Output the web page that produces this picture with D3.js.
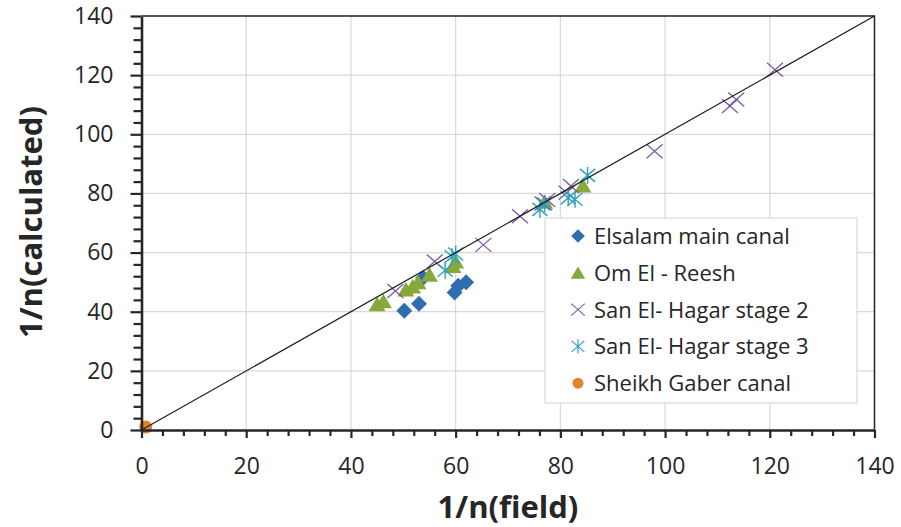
<!DOCTYPE html>
<html>
<head>
<meta charset="utf-8">
<script src="https://cdn.jsdelivr.net/npm/d3@7"></script>
<style>
  body { margin: 0; background: #fff; }
  svg { display: block; font-family: "Open Sans", sans-serif; }
</style>
</head>
<body>
<div id="chart"></div>
<script>
// data: [1/n field, 1/n calculated]
const elsalam = [[50.2, 40.3], [53, 42.7], [53.8, 51.5], [59.8, 46.5], [60.5, 48.8], [62, 50]];
const omElReesh = [[45, 42.5], [46.2, 43.5], [50.5, 47.5], [51.8, 48.5], [52.8, 50], [55, 52.5], [59.5, 55.5], [60, 57], [77, 77.2], [84.3, 82.7]];
const hagar2 = [[48.5, 47], [56, 57], [65.3, 62.6], [72.3, 72.3], [76.6, 76.6], [77.5, 77.8], [81.2, 80.2], [82, 82.5], [98, 94.3], [112.4, 109.6], [113.6, 111.8], [121, 121.8]];
const hagar3 = [[58, 54], [59.3, 58.7], [60, 59.5], [76.1, 74.6], [77, 76.5], [81.5, 78.5], [82.8, 78], [85.2, 86.1]];
const sheikh = [[0.8, 1]];

const seriesNames = ['Elsalam main canal', 'Om El - Reesh', 'San El- Hagar stage 2', 'San El- Hagar stage 3', 'Sheikh Gaber canal'];
const majorTicks = [0, 20, 40, 60, 80, 100, 120, 140];

const W = 901, H = 527;
const x = d3.scaleLinear().domain([0, 140]).range([141.5, 874.5]);
const y = d3.scaleLinear().domain([0, 140]).range([430, 16]);
const minorTicks = d3.range(0, 141, 4).filter(v => v % 20 !== 0);

const svg = d3.select('#chart').append('svg')
  .attr('width', W).attr('height', H);

// grid
const grid = svg.append('g').attr('stroke', '#d9d9d9').attr('stroke-width', 1.2);
grid.selectAll('line.v').data(majorTicks.slice(1)).join('line')
  .attr('x1', d => x(d)).attr('x2', d => x(d))
  .attr('y1', y(0)).attr('y2', y(140));
grid.selectAll('line.h').data(majorTicks.slice(1)).join('line')
  .attr('y1', d => y(d)).attr('y2', d => y(d))
  .attr('x1', x(0)).attr('x2', x(140));

// frame top / right
svg.append('path')
  .attr('d', `M${x(0)},${y(140)}H${x(140)}V${y(0)}`)
  .attr('fill', 'none').attr('stroke', '#262626').attr('stroke-width', 1.5);

// marker shapes
const shapes = [
  (g, c) => g.append('path').attr('d', 'M0,-8L8,0L0,8L-8,0Z').attr('fill', c),
  (g, c) => g.append('path').attr('d', 'M0,-7.5L8.5,7L-8.5,7Z').attr('fill', c),
  (g, c) => g.append('path').attr('d', 'M-8,-7L8,7M-8,7L8,-7').attr('stroke', c).attr('stroke-width', 1.3).attr('fill', 'none'),
  (g, c) => g.append('path').attr('d', 'M-7.5,-6.5L7.5,6.5M-7.5,6.5L7.5,-6.5M0,-8.5V8.5').attr('stroke', c).attr('stroke-width', 1.4).attr('fill', 'none'),
  (g, c) => g.append('circle').attr('r', 6.5).attr('fill', c)
];
const colors = ['#2f6db3', '#86a83c', '#7a5aa6', '#2ea3bd', '#e28330'];
const allSeries = [elsalam, omElReesh, hagar2, hagar3, sheikh];

allSeries.forEach((data, i) => {
  svg.append('g').selectAll('g').data(data).join('g')
    .attr('transform', d => `translate(${x(d[0])},${y(d[1])})`)
    .each(function () { shapes[i](d3.select(this), colors[i]); });
});

// 1:1 line
svg.append('line')
  .attr('x1', x(0)).attr('y1', y(0)).attr('x2', x(140)).attr('y2', y(140))
  .attr('stroke', '#1a1a1a').attr('stroke-width', 1.2);

// axes
const axisColor = '#262626';
const xMinor = svg.append('g').attr('transform', `translate(0,${y(0)})`)
  .call(d3.axisBottom(x).tickValues(minorTicks).tickSize(6).tickFormat(''));
const yMinor = svg.append('g').attr('transform', `translate(${x(0)},0)`)
  .call(d3.axisLeft(y).tickValues(minorTicks).tickSize(8).tickFormat(''));
const xAxis = svg.append('g').attr('transform', `translate(0,${y(0)})`)
  .call(d3.axisBottom(x).tickValues(majorTicks).tickSize(8).tickPadding(20).tickSizeOuter(0));
const yAxis = svg.append('g').attr('transform', `translate(${x(0)},0)`)
  .call(d3.axisLeft(y).tickValues(majorTicks).tickSize(11).tickPadding(17).tickSizeOuter(0));

[xMinor, yMinor, xAxis, yAxis].forEach(a => {
  a.selectAll('.domain').attr('stroke', axisColor).attr('stroke-width', 2.6);
  a.selectAll('.tick line').attr('stroke', axisColor).attr('stroke-width', 2.2);
  a.selectAll('text').attr('fill', '#262626').style('font-size', '23px').style('font-family', '"Open Sans", sans-serif');
});
yMinor.select('.domain').remove();
xMinor.select('.domain').remove();

// axis titles
svg.append('text')
  .attr('x', 508).attr('y', 518)
  .attr('text-anchor', 'middle')
  .style('font-size', '31px').style('font-weight', 'bold').attr('fill', '#262626')
  .text('1/n(field)');
svg.append('text')
  .attr('transform', 'translate(42,222) rotate(-90)')
  .attr('text-anchor', 'middle')
  .style('font-size', '31px').style('font-weight', 'bold').attr('fill', '#262626')
  .text('1/n(calculated)');

// legend
const legend = svg.append('g');
legend.append('rect')
  .attr('x', 545).attr('y', 218).attr('width', 312).attr('height', 185)
  .attr('fill', '#fff').attr('stroke', '#d9d9d9').attr('stroke-width', 1.2);
seriesNames.forEach((name, i) => {
  const ly = 236 + i * 36.8;
  const g = legend.append('g').attr('transform', `translate(578,${ly}) scale(0.85)`);
  shapes[i](g, colors[i]);
  legend.append('text')
    .attr('x', 594).attr('y', ly).attr('dy', '0.36em')
    .style('font-size', '22px').attr('fill', '#262626')
    .text(name);
});
</script>
</body>
</html>
